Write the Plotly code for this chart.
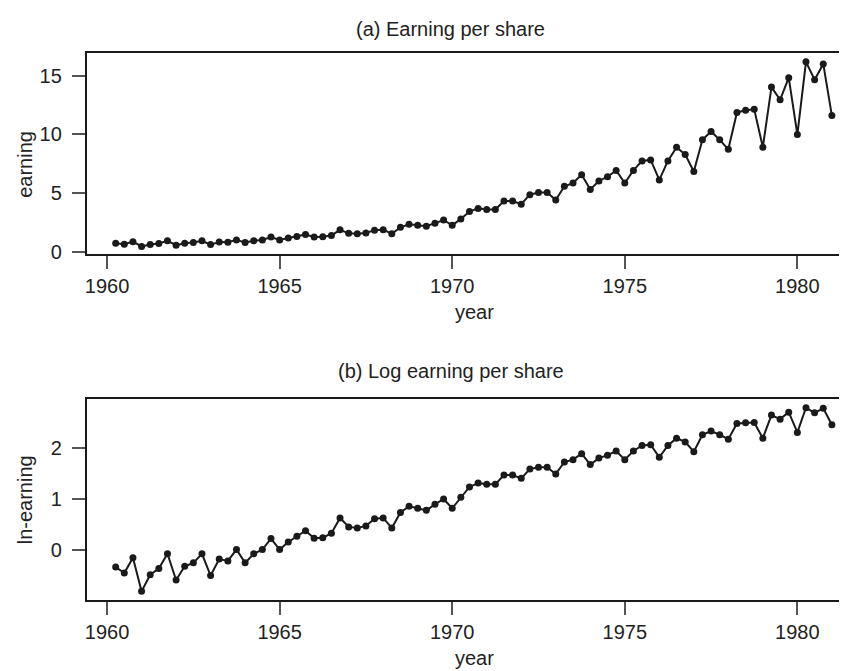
import numpy as np
import plotly.graph_objects as go

# Quarterly earnings per share (J&J), 1960Q1 - 1980Q4
years = list(range(1960, 1981))
quarters = [1, 2, 3, 4]
earning = [
    0.71, 0.63, 0.85, 0.44,
    0.61, 0.69, 0.92, 0.55,
    0.72, 0.77, 0.92, 0.60,
    0.83, 0.80, 1.00, 0.77,
    0.92, 1.00, 1.24, 1.00,
    1.16, 1.30, 1.45, 1.25,
    1.26, 1.38, 1.86, 1.56,
    1.53, 1.59, 1.83, 1.86,
    1.53, 2.07, 2.34, 2.25,
    2.16, 2.43, 2.70, 2.25,
    2.79, 3.42, 3.69, 3.60,
    3.60, 4.32, 4.32, 4.05,
    4.86, 5.04, 5.04, 4.41,
    5.58, 5.85, 6.57, 5.31,
    6.03, 6.39, 6.93, 5.85,
    6.93, 7.74, 7.83, 6.12,
    7.74, 8.91, 8.28, 6.84,
    9.54, 10.26, 9.54, 8.73,
    11.88, 12.06, 12.15, 8.91,
    14.04, 12.96, 14.85, 9.99,
    16.20, 14.67, 16.02, 11.61,
]
x_ticks = [1960, 1965, 1970, 1975, 1980]
ya_ticks = [0, 5, 10, 15]
yb_ticks = [0, 1, 2]

time = [y + q / 4 for y in years for q in quarters]
ln_earning = list(np.log(earning))

W, H = 847, 671
FONT = "Liberation Sans, Arial, Helvetica, sans-serif"
TXT = "#222222"
LINE = "#1a1a1a"

def px(x):
    return x / W

def py(y):
    return 1 - y / H

fig = go.Figure()
for ys, xa, ya in [(earning, "x", "y"), (ln_earning, "x2", "y2")]:
    fig.add_trace(go.Scatter(
        x=time, y=ys, xaxis=xa, yaxis=ya, mode="lines+markers",
        line=dict(color=LINE, width=2),
        marker=dict(color=LINE, size=7),
        showlegend=False, hoverinfo="skip"))

xcommon = dict(
    range=[1959.405, 1981.67], tickvals=x_ticks, ticks="outside", ticklen=13,
    tickwidth=1.5, tickcolor="#555555", showline=True, linecolor=LINE,
    linewidth=2, mirror=True, showgrid=False, zeroline=False,
    tickfont=dict(family=FONT, size=20, color=TXT), ticklabelstandoff=0,
)
ycommon = dict(
    ticks="outside", ticklen=13, tickwidth=1.5, tickcolor="#555555",
    showline=True, linecolor=LINE, linewidth=1.5, mirror=False,
    showgrid=False, zeroline=False,
    tickfont=dict(family=FONT, size=20, color=TXT), ticklabelstandoff=6,
)

fig.update_layout(
    width=W, height=H, margin=dict(l=0, r=0, t=0, b=0),
    paper_bgcolor="white", plot_bgcolor="white",
    xaxis=dict(domain=[px(76.7), 1], anchor="y", **xcommon),
    yaxis=dict(domain=[py(249.3), py(46)], anchor="x", range=[-0.2, 16.92],
               tickvals=ya_ticks, **ycommon),
    xaxis2=dict(domain=[px(76.7), 1], anchor="y2", **xcommon),
    yaxis2=dict(domain=[py(600), py(396.7)], anchor="x2", range=[-0.99, 2.95],
                tickvals=yb_ticks, **ycommon),
)

def label(text, x, y, angle=0):
    fig.add_annotation(text=text, x=px(x), y=py(y), xref="paper", yref="paper",
                       xanchor="center", yanchor="middle", showarrow=False,
                       textangle=angle, font=dict(family=FONT, size=20, color=TXT))

label("(a) Earning per share", 442, 21)
label("(b) Log earning per share", 442, 368)
label("year", 466, 308)
label("year", 466, 659)
label("earning", 15, 158, -90)
label("ln-earning", 15, 498, -90)

fig.write_html("out.html")
